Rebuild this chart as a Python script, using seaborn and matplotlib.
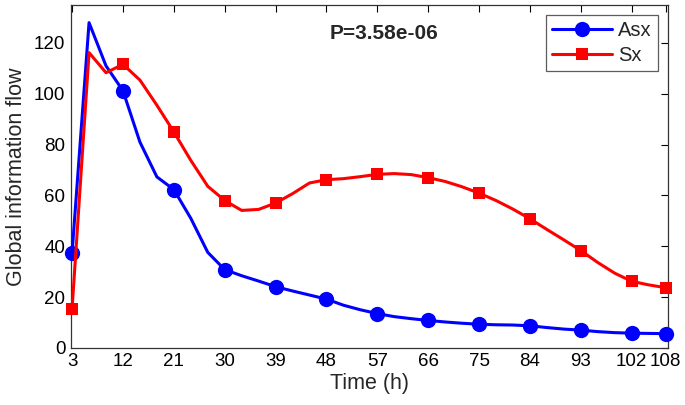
import numpy as np
import pandas as pd
import matplotlib
matplotlib.use("Agg")
import matplotlib.pyplot as plt
import seaborn as sns

# sampled every 3 h, markers every 9 h plus the last point
hours = [3, 6, 9, 12, 15, 18, 21, 24, 27, 30, 33, 36, 39, 42, 45, 48, 51, 54,
         57, 60, 63, 66, 69, 72, 75, 78, 81, 84, 87, 90, 93, 96, 99, 102, 105, 108]
asx = [37.5, 128.0, 111.0, 101.2, 81.0, 67.3, 62.3, 51.0, 37.6, 30.8, 28.4, 26.3,
       24.1, 22.4, 20.8, 19.2, 16.8, 15.0, 13.5, 12.3, 11.5, 10.8, 10.2, 9.7,
       9.3, 9.1, 9.0, 8.7, 8.0, 7.4, 7.0, 6.4, 6.0, 5.8, 5.7, 5.6]
sx = [15.5, 116.2, 108.3, 111.6, 105.4, 95.5, 85.0, 73.8, 63.6, 58.0, 54.1, 54.5,
      57.0, 60.7, 64.9, 66.2, 66.6, 67.4, 68.3, 68.6, 68.2, 67.0, 65.5, 63.4,
      60.9, 58.0, 54.6, 50.8, 46.6, 42.5, 38.3, 33.6, 29.4, 26.2, 24.8, 23.7]
marker_idx = [0, 3, 6, 9, 12, 15, 18, 21, 24, 27, 30, 33, 35]
xticks = [3, 12, 21, 30, 39, 48, 57, 66, 75, 84, 93, 102, 108]

df = pd.DataFrame({"Time": hours * 2,
                   "flow": asx + sx,
                   "group": ["Asx"] * len(hours) + ["Sx"] * len(hours)})

sns.set_style("white")
plt.rcParams["font.family"] = ["Liberation Sans", "DejaVu Sans"]

fig = plt.figure(figsize=(6.85, 4.05), dpi=100)
ax = fig.add_axes([0.1036, 0.141, 0.8714, 0.847])

sns.lineplot(data=df[df.group == "Asx"], x="Time", y="flow", ax=ax,
             color="#0000ff", lw=2.2, marker="o", markersize=11,
             markevery=marker_idx, markeredgewidth=0, label="Asx",
             clip_on=False, zorder=3)
sns.lineplot(data=df[df.group == "Sx"], x="Time", y="flow", ax=ax,
             color="#ff0000", lw=2.2, marker="s", markersize=9,
             markevery=marker_idx, markeredgewidth=0, label="Sx",
             clip_on=False, zorder=3)

ax.set_xlim(2.8, 108.4)
ax.set_ylim(0, 135)
ax.set_xticks(xticks)
ax.set_yticks([0, 20, 40, 60, 80, 100, 120])
ax.tick_params(direction="in", length=5, width=0.8, top=True, right=True,
               labelsize=13.5, colors="black", pad=4)
for s in ax.spines.values():
    s.set_color("#333333")
    s.set_linewidth(0.9)

ax.set_xlabel("Time (h)", fontsize=15.5, labelpad=2)
ax.set_ylabel("Global information flow", fontsize=15.5, labelpad=5)

ax.text(58.1, 123.6, "P=3.58e-06", fontsize=15, fontweight="bold",
        ha="center", va="center")

leg = ax.legend(loc="upper right", fontsize=14.5, handlelength=3.0,
                frameon=True, fancybox=False, borderaxespad=0.5,
                borderpad=0.3, labelspacing=0.3, handletextpad=0.3)
leg.get_frame().set_edgecolor("#333333")
leg.get_frame().set_linewidth(0.9)

fig.savefig("out.png", dpi=100)
